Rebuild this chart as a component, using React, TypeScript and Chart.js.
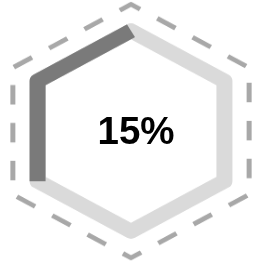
import React, { useEffect, useRef } from "react";
import { Chart, registerables } from "chart.js";

Chart.register(...registerables);

// Six sides of the hexagon (radar axes), starting at the top vertex, clockwise
const sides = ["top", "upper-right", "lower-right", "bottom", "lower-left", "upper-left"];
// Level of the thick progress ring and of the outer dashed frame
const ringLevel = [87, 87, 87, 87, 87, 87];
const progressLevel = [87, null, null, null, 87, 87];
const frameLevel = [110, 110, 110, 110, 110, 110];
const scaleMax = 100;
const centerLabel = "15%";

export default function App() {
  const canvasRef = useRef<HTMLCanvasElement | null>(null);

  useEffect(() => {
    const canvas = canvasRef.current;
    if (!canvas) return;
    const chart = new Chart(canvas, {
      type: "radar",
      data: {
        labels: sides,
        datasets: [
          {
            data: progressLevel,
            borderColor: "#7a7a7a",
            borderWidth: 16,
            borderCapStyle: "butt",
            borderJoinStyle: "round",
            fill: false,
            pointRadius: 0,
            spanGaps: false,
            clip: false,
          } as any,
          {
            data: ringLevel,
            borderColor: "#dadada",
            borderWidth: 16,
            borderJoinStyle: "round",
            fill: false,
            pointRadius: 0,
            clip: false,
          } as any,
          {
            data: frameLevel,
            borderColor: "#a8a8a8",
            borderWidth: 5,
            borderDash: [21, 19.8],
            borderDashOffset: 10.5,
            borderCapStyle: "butt",
            borderJoinStyle: "round",
            fill: false,
            pointRadius: 0,
            clip: false,
          } as any,
        ],
      },
      options: {
        animation: false,
        responsive: false,
        maintainAspectRatio: false,
        layout: { padding: { left: 7, right: 0, top: 0, bottom: 0 } },
        plugins: { legend: { display: false }, tooltip: { enabled: false } },
        scales: {
          r: {
            min: 0,
            max: scaleMax,
            ticks: { display: false },
            grid: { display: false },
            angleLines: { display: false },
            pointLabels: { display: false },
          },
        },
      },
    });
    return () => chart.destroy();
  }, []);

  return (
    <div style={{ position: "absolute", left: 0, top: 0, width: 255, height: 263, background: "#fff", overflow: "hidden" }}>
      <canvas ref={canvasRef} width={255} height={283} style={{ width: "255px", height: "263px", display: "block" }} />
      <div
        style={{
          position: "absolute",
          left: 136,
          top: 131,
          transform: "translate(-50%, -50%)",
          fontFamily: "'Liberation Sans', Arial, sans-serif",
          fontWeight: "bold",
          fontSize: 38.5,
          color: "#000",
          whiteSpace: "nowrap",
          lineHeight: 1,
        }}
      >
        {centerLabel}
      </div>
    </div>
  );
}
